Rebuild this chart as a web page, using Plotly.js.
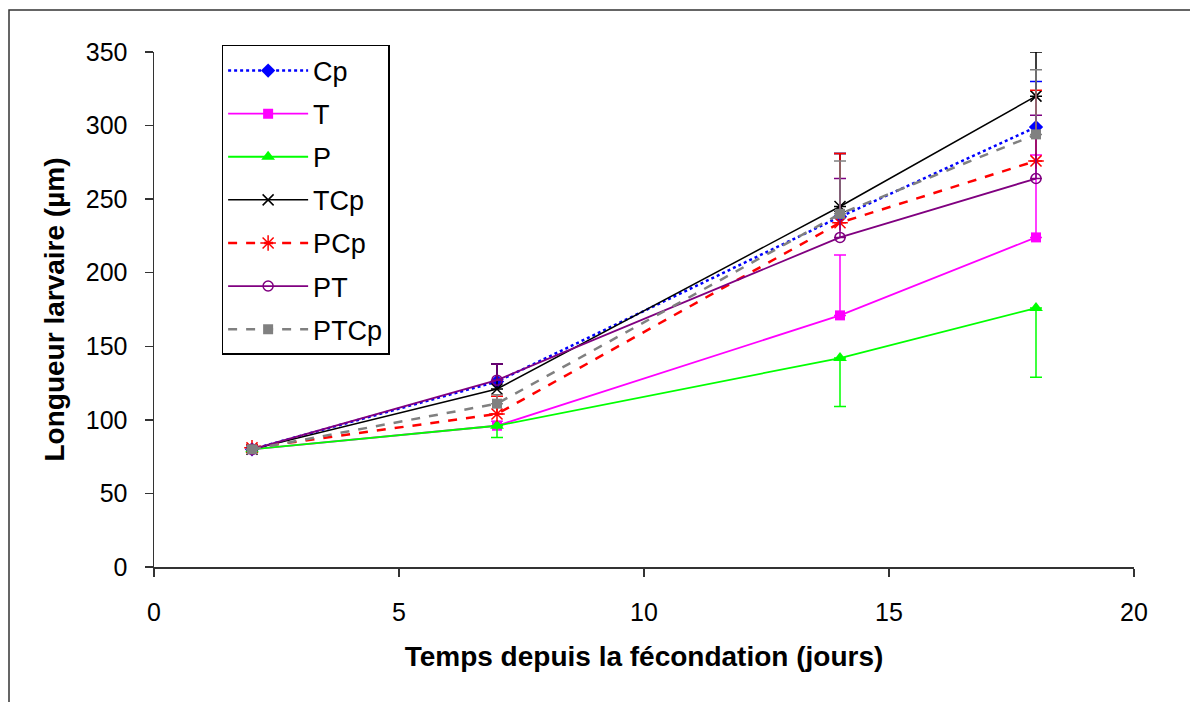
<!DOCTYPE html>
<html>
<head>
<meta charset="utf-8">
<script src="https://cdn.plot.ly/plotly-3.0.1.min.js"></script>
<style>
html,body{margin:0;padding:0;background:#fff;}
#chart{width:1190px;height:702px;}
</style>
</head>
<body>
<div id="chart"></div>
<script>
// Days after fertilisation
const days = [2, 7, 14, 18];

// Series values (µm)
const Cp   = [80, 126, 238, 299];
const T    = [80, 96, 171, 224];
const P    = [80, 96, 142, 176];
const TCp  = [80, 121, 245, 320];
const PCp  = [81, 104, 234, 276];
const PT   = [80, 127, 224, 264];
const PTCp = [80, 111, 240, 294];

// Error bars (plus side, except P which shows the minus side)
const CpErr   = [3, 12, 43, 31];
const TErr    = [2, 3, 41, 56];
const PErrMin = [2, 8, 33, 47];
const TCpErr  = [2, 17, 36, 30];
const PCpErr  = [2, 12, 47, 48];
const PTErr   = [2, 11, 40, 43];
const PTCpErr = [2, 6, 36, 44];

const names = ['Cp', 'T', 'P', 'TCp', 'PCp', 'PT', 'PTCp'];

function mk(name, y, plus, minus, color, dash, width, symbol, msize, mline) {
  return {
    x: days, y: y, name: name, type: 'scatter', mode: 'lines+markers',
    legendgroup: name,
    line: {color: color, dash: dash, width: width},
    marker: {symbol: symbol, size: msize, color: color, line: {color: color, width: mline}},
    error_y: {type: 'data', symmetric: false, array: plus, arrayminus: minus,
              color: color, thickness: 1.5, width: 6, visible: true}
  };
}
const zeros = [0, 0, 0, 0];
const data = [
  mk(names[0], Cp, CpErr, zeros, '#0000FF', 'dot', 2.5, 'diamond', 11, 0),
  mk(names[1], T, TErr, zeros, '#FF00FF', 'solid', 1.8, 'square', 10, 0),
  mk(names[2], P, zeros, PErrMin, '#00FF00', 'solid', 1.8, 'triangle-up', 12, 0),
  mk(names[3], TCp, TCpErr, zeros, '#000000', 'solid', 1.5, 'x-thin-open', 11, 1.5),
  mk(names[4], PCp, PCpErr, zeros, '#FF0000', 'dash', 2.5, 'asterisk-open', 13, 1.5),
  mk(names[5], PT, PTErr, zeros, '#800080', 'solid', 1.8, 'circle-open', 10, 1.5),
  mk(names[6], PTCp, PTCpErr, zeros, '#808080', 'dash', 2.5, 'square', 10, 0)
];

const font = 'Liberation Sans, Arial, sans-serif';
const layout = {
  width: 1190, height: 702,
  margin: {l: 154, r: 56, t: 52, b: 135},
  paper_bgcolor: '#fff', plot_bgcolor: '#fff',
  font: {family: font, size: 25, color: '#000'},
  showlegend: true,
  legend: {
    x: 0.069, y: 1.0136, xanchor: 'left', yanchor: 'top',
    bordercolor: '#000', borderwidth: 1.5, bgcolor: '#fff',
    font: {family: font, size: 27, color: '#000'},
    tracegroupgap: 5, itemwidth: 80
  },
  xaxis: {
    range: [0, 20], dtick: 5, tick0: 0,
    showgrid: false, zeroline: false,
    showline: true, linecolor: '#333', linewidth: 1.5,
    ticks: 'outside', ticklen: 8, tickcolor: '#333', tickwidth: 1.5,
    ticklabelstandoff: 14,
    tickfont: {family: font, size: 25, color: '#000'},
    title: {text: '<b>Temps depuis la fécondation (jours)</b>', font: {family: font, size: 28, color: '#000'}, standoff: 22}
  },
  yaxis: {
    range: [0, 350], dtick: 50, tick0: 0,
    showgrid: false, zeroline: false,
    showline: true, linecolor: '#333', linewidth: 1.5,
    ticks: 'outside', ticklen: 8, tickcolor: '#333', tickwidth: 1.5,
    ticklabelstandoff: 12,
    tickfont: {family: font, size: 25, color: '#000'},
    title: {text: '<b>Longueur larvaire (µm)</b>', font: {family: font, size: 28, color: '#000'}, standoff: 13}
  },
  shapes: [{
    type: 'rect', xref: 'paper', yref: 'paper',
    x0: (9 - 154) / 980, x1: 1.3, y0: -0.6, y1: (567 - 10) / 515,
    line: {color: '#333', width: 1.5}, fillcolor: 'rgba(0,0,0,0)', layer: 'below'
  }]
};

Plotly.newPlot('chart', data, layout, {displayModeBar: false, staticPlot: true});
</script>
</body>
</html>
